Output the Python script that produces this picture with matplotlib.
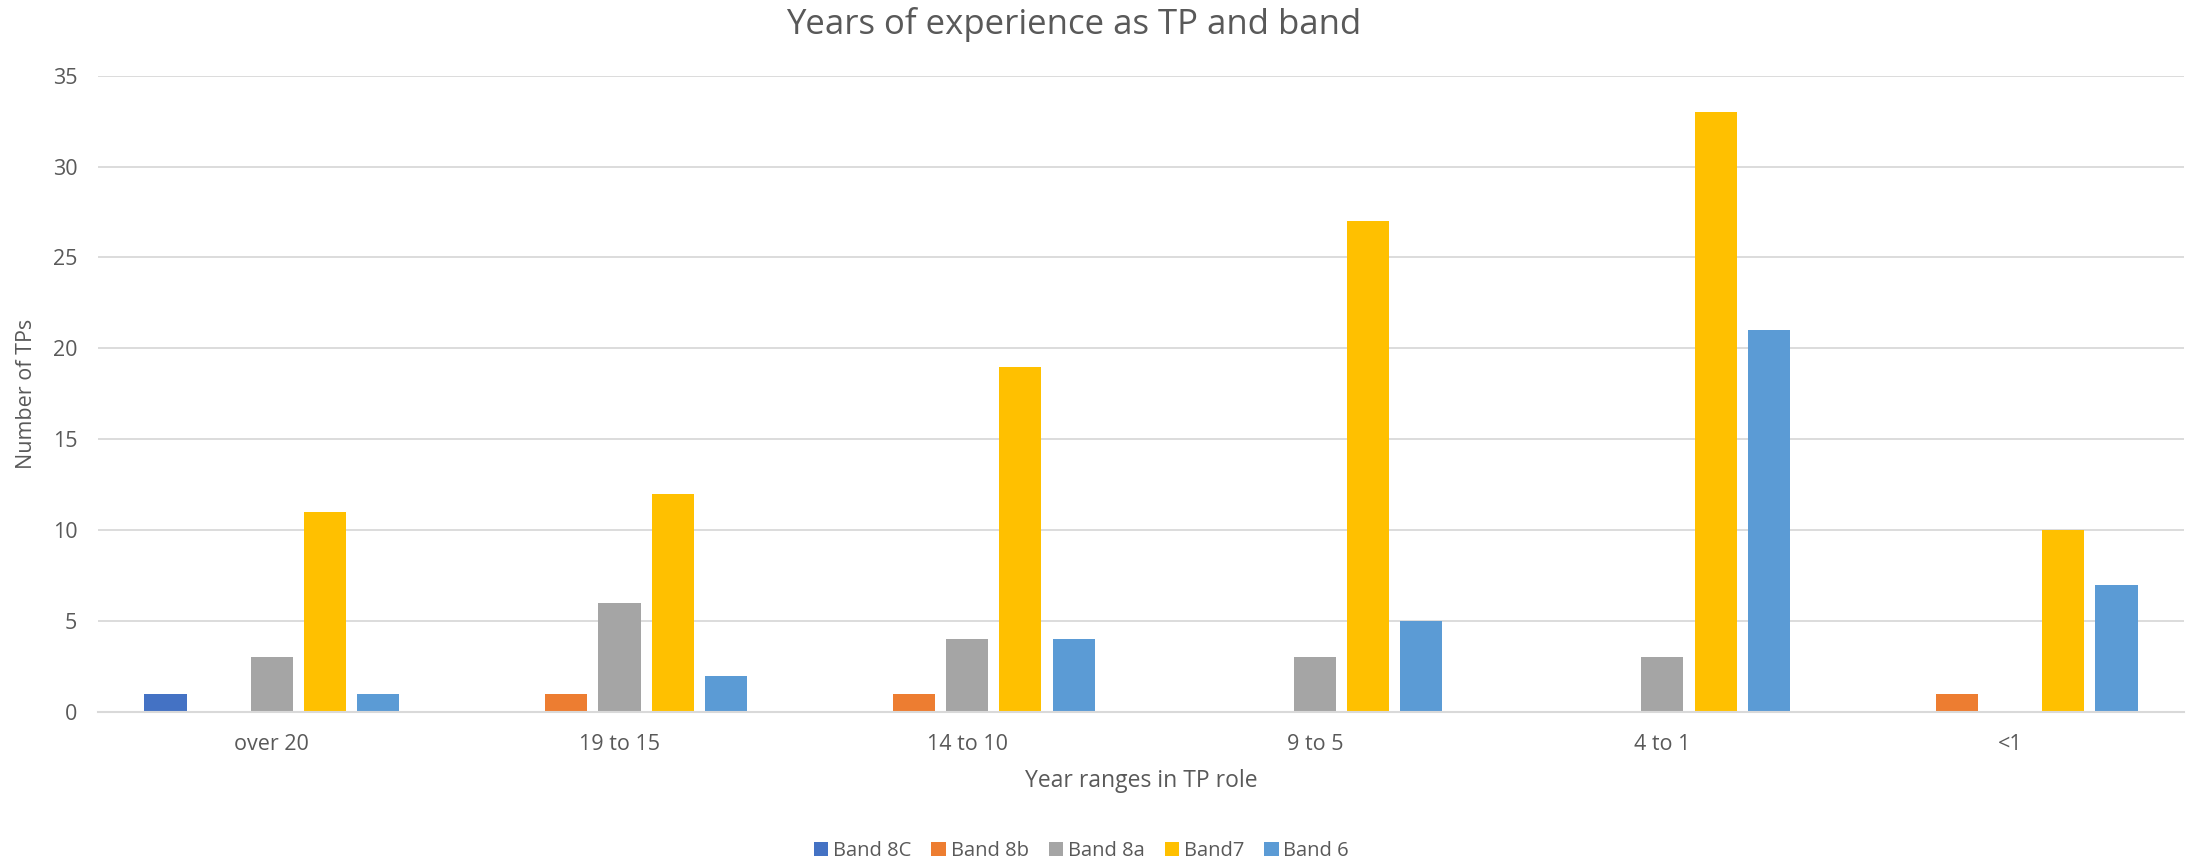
import matplotlib
matplotlib.use("Agg")
import matplotlib.pyplot as plt
import numpy as np

categories = ["over 20", "19 to 15", "14 to 10", "9 to 5", "4 to 1", "<1"]
series_names = ["Band 8C", "Band 8b", "Band 8a", "Band7", "Band 6"]
band_8c = [1, 0, 0, 0, 0, 0]
band_8b = [0, 1, 1, 0, 0, 1]
band_8a = [3, 6, 4, 3, 3, 0]
band_7 = [11, 12, 19, 27, 33, 10]
band_6 = [1, 2, 4, 5, 21, 7]
colors = ["#4472C4", "#ED7D31", "#A5A5A5", "#FFC000", "#5B9BD5"]

plt.rcParams['font.family'] = ['Open Sans', 'DejaVu Sans']
txt = "#595959"

fig = plt.figure(figsize=(21.98, 8.65), dpi=100)
ax = fig.add_axes([0.0446, 0.1769, 0.949, 0.7356])

x = np.arange(len(categories))
step = 0.153
width = 0.121
for j, (name, vals, c) in enumerate(zip(series_names, [band_8c, band_8b, band_8a, band_7, band_6], colors)):
    ax.bar(x + (j - 2) * step, vals, width=width, color=c, label=name, zorder=3)

ax.set_xlim(-0.5, len(categories) - 0.5)
ax.set_ylim(0, 35)
ax.set_yticks(range(0, 36, 5))
ax.set_xticks(x)
ax.set_xticklabels(categories)
ax.yaxis.grid(True, color="#D9D9D9", linewidth=1.3, zorder=0)
for s in ["top", "right", "left"]:
    ax.spines[s].set_visible(False)
ax.spines["bottom"].set_color("#D9D9D9")
ax.spines["bottom"].set_linewidth(1.5)
ax.spines["bottom"].set_zorder(4)
ax.tick_params(axis="both", length=0, colors=txt, labelsize=15.5)
ax.tick_params(axis="x", pad=16)
ax.tick_params(axis="y", pad=15)

fig.text(0.4885, 1 - 25 / 865, "Years of experience as TP and band", color=txt,
         fontsize=25, ha="center", va="center")
ax.set_xlabel("Year ranges in TP role", color=txt, fontsize=16.5, labelpad=10)
ax.set_ylabel("Number of TPs", color=txt, fontsize=15.5, labelpad=11)

leg = fig.legend(loc="center", bbox_to_anchor=(0.492, 1 - 851 / 865), ncol=5, frameon=False,
                 fontsize=14.5, handlelength=0.73, handleheight=0.73, handletextpad=0.22,
                 columnspacing=1.0)
for t in leg.get_texts():
    t.set_color(txt)

fig.savefig("out.png", dpi=100)
